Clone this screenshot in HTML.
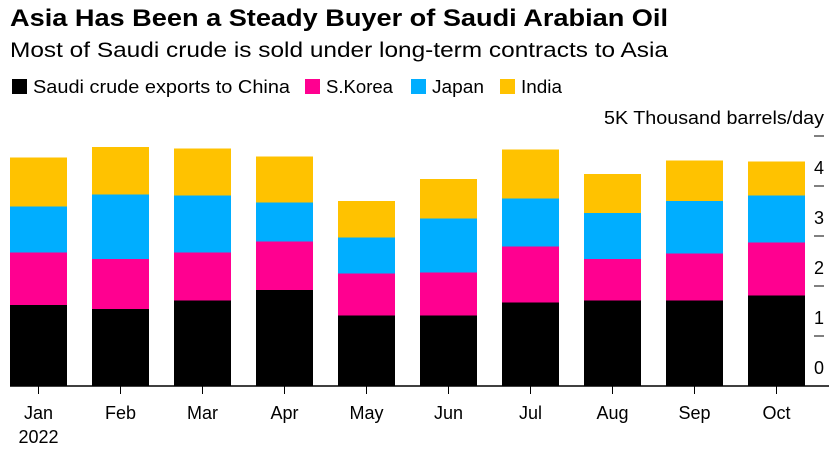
<!DOCTYPE html>
<html><head><meta charset="utf-8"><style>
body{margin:0;background:#fff;font-family:"Liberation Sans",Arial,sans-serif;}
#wrap{position:relative;width:839px;height:451px;overflow:hidden;}
</style></head><body>
<div id="wrap">
<svg id="svg" width="839" height="451" style="position:absolute;left:0;top:0;font-family:'Liberation Sans',Arial,sans-serif">
<text x="10" y="26" font-size="24" font-weight="bold" textLength="658" lengthAdjust="spacingAndGlyphs">Asia Has Been a Steady Buyer of Saudi Arabian Oil</text>
<text x="10" y="57" font-size="21" textLength="658" lengthAdjust="spacingAndGlyphs">Most of Saudi crude is sold under long-term contracts to Asia</text>
</svg>
</div>
<script>
const months=["Jan","Feb","Mar","Apr","May","Jun","Jul","Aug","Sep","Oct"];
const china=[1.62,1.54,1.71,1.92,1.41,1.41,1.67,1.71,1.71,1.81];
const korea=[1.05,1.00,0.96,0.97,0.84,0.86,1.12,0.83,0.94,1.06];
const japan=[0.92,1.29,1.14,0.78,0.72,1.08,0.96,0.92,1.05,0.94];
const india=[0.98,0.95,0.94,0.92,0.73,0.79,0.98,0.78,0.81,0.68];
const yTicks=[0,1,2,3,4];
const series=[["china",china,"#000000"],["s-korea",korea,"#ff0090"],["japan",japan,"#00aeff"],["india",india,"#ffc200"]];
const legendLabels=["Saudi crude exports to China","S.Korea","Japan","India"];
const legendX=[12,305,411,500];
const legendW=[257,67,52,41];
const NS="http://www.w3.org/2000/svg";
const svg=document.getElementById('svg');
const base=386, unit=50, x0=10, pitch=82, bw=57;
function y(v){return base-v*unit;}
function xc(i){return x0+bw/2+i*pitch;}
function mk(tag,attrs){const e=document.createElementNS(NS,tag);for(const k in attrs)e.setAttribute(k,attrs[k]);svg.appendChild(e);return e;}
legendLabels.forEach((l,i)=>{
  const lx=legendX[i];
  const r=mk('rect',{x:lx,y:79,width:15,height:15,fill:series[i][2]});
  
  
  const t=mk('text',{x:lx+21,y:93,'font-size':18,textLength:legendW[i],lengthAdjust:'spacingAndGlyphs'});
  t.textContent=l;
  
  
});
months.forEach((m,i)=>{
  let acc=0;
  series.forEach(s=>{
    const v=s[1][i];
    const r=mk('rect',{x:xc(i)-bw/2,y:y(acc+v),width:bw,height:v*unit,fill:s[2]});
    
    
    acc+=v;
  });
  const tk=mk('line',{x1:xc(i),x2:xc(i),y1:base,y2:base+8,stroke:'#000','stroke-width':1});
  
  
  const t=mk('text',{x:xc(i),y:419,'font-size':18,'text-anchor':'middle'});
  t.textContent=m;
  
  
});
const yr=mk('text',{x:xc(0),y:443,'font-size':18,'text-anchor':'middle'});
yr.textContent='2022';


const ax=mk('line',{x1:x0,x2:829,y1:base,y2:base,stroke:'#000','stroke-width':1.5});


yTicks.concat([5]).forEach(v=>{
  if(v>0){
    const l=mk('line',{x1:814,x2:824,y1:y(v),y2:y(v),stroke:'#000','stroke-width':1});
    
    
  }
  const attrs={x:824,y:y(v)-12,'font-size':18,'text-anchor':'end'};
  if(v===5){attrs.textLength=220;attrs.lengthAdjust='spacingAndGlyphs';}
  const t=mk('text',attrs);
  t.textContent= v===5 ? '5K Thousand barrels/day' : String(v);
  
  
});
</script>
</body></html>
